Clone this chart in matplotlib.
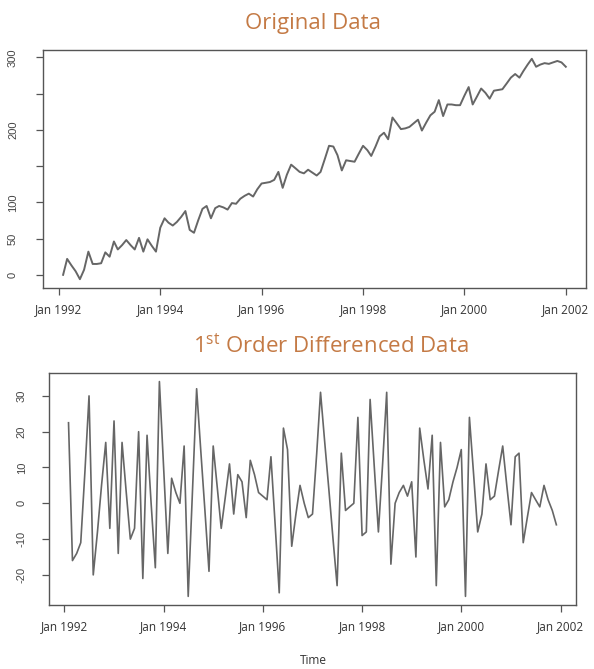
import matplotlib
matplotlib.use('Agg')
import matplotlib.pyplot as plt
import pandas as pd

# monthly values, Feb 1992 onwards
original = [0, 22, 13, 5, -6, 7, 32, 15, 15, 16, 31, 25, 46, 35, 41, 48, 41, 35, 51, 32,
            49, 40, 32, 65, 78, 72, 68, 73, 80, 88, 62, 58, 75, 91, 95, 78, 92, 95, 93, 90,
            99, 98, 105, 109, 112, 108, 118, 126, 127, 128, 131, 142, 120, 138, 152, 147, 142, 140, 145, 141,
            137, 142, 160, 178, 177, 165, 144, 158, 157, 156, 167, 178, 172, 164, 177, 191, 196, 187, 217, 209,
            201, 202, 204, 209, 214, 199, 210, 220, 225, 241, 219, 235, 235, 234, 234, 247, 259, 235, 246, 257,
            251, 243, 254, 255, 256, 264, 272, 277, 272, 281, 290, 298, 287, 290, 292, 291, 293, 295, 293, 287]

differenced = [22.5, -16, -14, -11, 9, 30, -20, -8, 5, 17, -7, 23, -14, 17, 3, -10, -7, 20, -21, 19,
               0, -18, 34, 10, -14, 7, 3, 0, 16, -26, 3, 32, 15, -2, -19, 16, 4, -7, 2, 11,
               -3, 8, 6, -4, 12, 8, 3, 2, 1, 13, -6, -25, 21, 15, -12, -3, 5, 0, -4, -3,
               14, 31, 17, 4, -10, -23, 14, -2, -1, 0, 24, -9, -8, 29, 10, -8, 11, 31, -17, 0,
               3, 5, 2, 6, -15, 21, 12, 4, 19, -23, 17, -1, 1, 6, 10, 15, -26, 24, 8, -8,
               -3, 11, 1, 2, 9, 16, 5, -6, 13, 14, -11, -4, 3, 1, -1, 5, 1, -2, -6]

tick_dates = ['1992-01-01', '1994-01-01', '1996-01-01', '1998-01-01', '2000-01-01', '2002-01-01']
tick_labels = ['Jan 1992', 'Jan 1994', 'Jan 1996', 'Jan 1998', 'Jan 2000', 'Jan 2002']

top_yticks = [0, 50, 100, 150, 200, 250, 300]
top_ylabels = ['0', '50', '100', '', '200', '', '300']
bot_yticks = [-20, -10, 0, 10, 20, 30]
bot_ylabels = ['-20', '-10', '0', '10', '20', '30']

orig_dates = pd.date_range('1992-02-01', periods=len(original), freq='MS')
diff_dates = pd.date_range('1992-02-01', periods=len(differenced), freq='MS')
ticks = pd.to_datetime(tick_dates)

title_color = '#C47A45'
line_color = '#666666'
box_color = '#555555'

fig = plt.figure(figsize=(5.94, 6.69), dpi=100)


def style_axes(ax, yticks, ylabels, ypad):
    for s in ax.spines.values():
        s.set_color(box_color)
        s.set_linewidth(1.0)
    ax.margins(x=0.04, y=0.04)
    ax.set_xticks(ticks)
    ax.set_xticklabels(tick_labels, fontsize=8.5, family='Open Sans', color='#333333')
    ax.set_yticks(yticks)
    ax.set_yticklabels(ylabels, fontsize=8, family='Liberation Sans', color='#444444',
                       rotation=90, va='center')
    ax.tick_params(axis='x', direction='out', length=5, width=0.9, color=box_color, pad=6)
    ax.tick_params(axis='y', direction='out', length=5, width=0.9, color=box_color, pad=ypad)


# Original data
ax1 = fig.add_axes([0.0724, 0.5695, 0.914, 0.3558])
ax1.plot(orig_dates, original, color=line_color, lw=1.4)
style_axes(ax1, top_yticks, top_ylabels, 13)
fig.text(313 / 594, 1 - 24 / 669, 'Original Data', ha='center', va='center',
         fontsize=16, family='Open Sans', color=title_color)

# 1st order differenced
ax2 = fig.add_axes([0.0825, 0.0957, 0.887, 0.3468])
ax2.plot(diff_dates, differenced, color=line_color, lw=1.2)
style_axes(ax2, bot_yticks, bot_ylabels, 11)
fig.text(331 / 594, 1 - 346 / 669, r'1$^{\mathregular{st}}$ Order Differenced Data',
         ha='center', va='center', fontsize=16, family='Open Sans', color=title_color)
fig.text(313 / 594, 1 - 660 / 669, 'Time', ha='center', va='center',
         fontsize=8.5, family='Open Sans', color='#333333')

fig.savefig('out.png', dpi=100)
